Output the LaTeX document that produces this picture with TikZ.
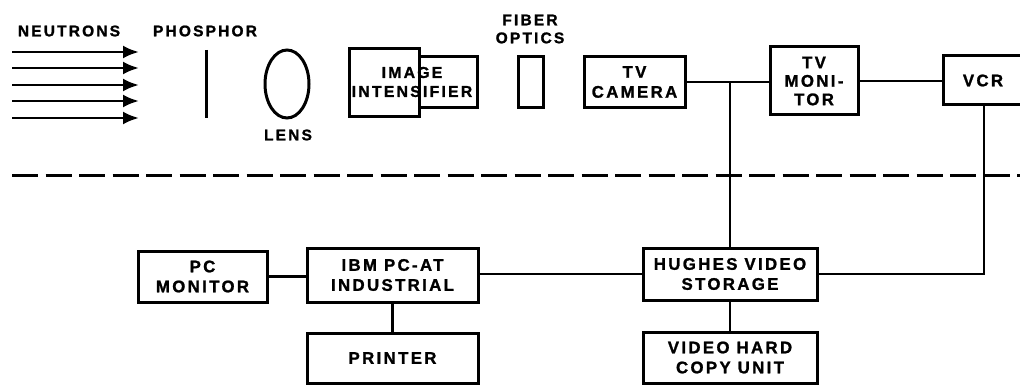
\documentclass[tikz,border=0pt]{standalone}
\usepackage{fontspec}
\setmainfont{Liberation Sans}[LetterSpace=14, BoldFeatures={FakeBold=1.3}]
\usetikzlibrary{arrows.meta,shapes.geometric}
\begin{document}
\begin{tikzpicture}[x=1pt,y=-1pt,
  every node/.style={font=\bfseries},
  box/.style={draw, line width=3pt, inner sep=0pt, align=center,
    font=\fontsize{16.8}{20}\selectfont\bfseries},
  lbl/.style={inner sep=0pt, align=center, font=\fontsize{15.5}{18}\selectfont\bfseries},
  conn/.style={line width=2.8pt},
  beam/.style={line width=2.8pt, -{Latex[length=16pt,width=13pt]}}]
\useasboundingbox[fill=white] (0,0) rectangle (1020,385);
% top labels
\node[lbl] (neutrons) at (69,31) {NEUTRONS};
\node[lbl] (phosphorlbl) at (205,31) {PHOSPHOR};
\node[lbl] (lenslbl) at (288,135) {LENS};
\node[lbl] (fiberlbl) at (530,29) {FIBER\\OPTICS};
% neutron beams
\foreach \yy [count=\i] in {52,68,85,101,118}{
  \coordinate (bs\i) at (12,\yy);
  \coordinate (be\i) at (139,\yy);
  \draw[beam] (bs\i) -- (be\i);
}
% phosphor
\coordinate (ph1) at (206,50);
\coordinate (ph2) at (206,118);
\draw[line width=3pt] (ph1) -- (ph2);
% lens
\node[draw, ellipse, line width=3pt, minimum width=44pt, minimum height=68pt, inner sep=0pt] (lens) at (287,84) {};
% image intensifier
\node[box, minimum width=70pt, minimum height=68pt] (iibig) at (384,83) {};
\node[box, minimum width=58pt, minimum height=51pt] (iismall) at (448,82.5) {};
\node[lbl, font=\fontsize{15.8}{19}\selectfont\bfseries] (iitext) at (412,82) {IMAGE\\INTENSIFIER};
% fiber optics
\node[box, minimum width=25pt, minimum height=51pt] (fiber) at (530.5,82.5) {};
% tv camera
\node[box, minimum width=101pt, minimum height=51pt] (camera) at (634.5,82) {TV\\CAMERA};
% tv monitor
\node[box, minimum width=88pt, minimum height=68pt, font=\fontsize{16.8}{18.5}\selectfont\bfseries] (tvmon) at (814,81) {TV\\MONI-\\TOR};
% vcr
\node[box, minimum width=82pt, minimum height=49pt, text width=80pt] (vcr) at (984,80.5) {\hspace*{-2pt}VCR\hspace*{-6pt}};
% dashed separator
\coordinate (d1) at (12,175);
\coordinate (d2) at (1030,175);
\draw[line width=3pt, dash pattern=on 26pt off 7.5pt] (d1) -- (d2);
% lower boxes
\node[box, minimum width=174pt, minimum height=52pt] (hughes) at (730,274) {HUGHES VIDEO\\STORAGE};
\node[box, minimum width=174pt, minimum height=51pt] (hardcopy) at (730,357.5) {VIDEO HARD\\COPY UNIT};
\node[box, minimum width=171pt, minimum height=54pt] (ibm) at (392.5,275) {IBM PC-AT\\INDUSTRIAL};
\node[box, minimum width=129pt, minimum height=51pt] (pcmon) at (202.5,276.5) {PC\\MONITOR};
\node[box, minimum width=171pt, minimum height=50pt] (printer) at (392.5,358) {PRINTER};
% connectors
\draw[conn] (camera.east) -- (camera.east -| tvmon.west);
\coordinate (junc) at (camera.east -| hughes.north);
\draw[conn] (junc) -- (hughes.north);
\draw[conn] (tvmon.east) -- (tvmon.east -| vcr.west);
\draw[conn] (vcr.south) -- (vcr.south |- hughes.east) -- (hughes.east);
\draw[conn] (hughes.west) -- (hughes.west -| ibm.east);
\draw[conn] (pcmon.east) -- (pcmon.east -| ibm.west);
\draw[conn] (ibm.south) -- (printer.north);
\draw[conn] (hughes.south) -- (hardcopy.north);
\end{tikzpicture}
\end{document}
